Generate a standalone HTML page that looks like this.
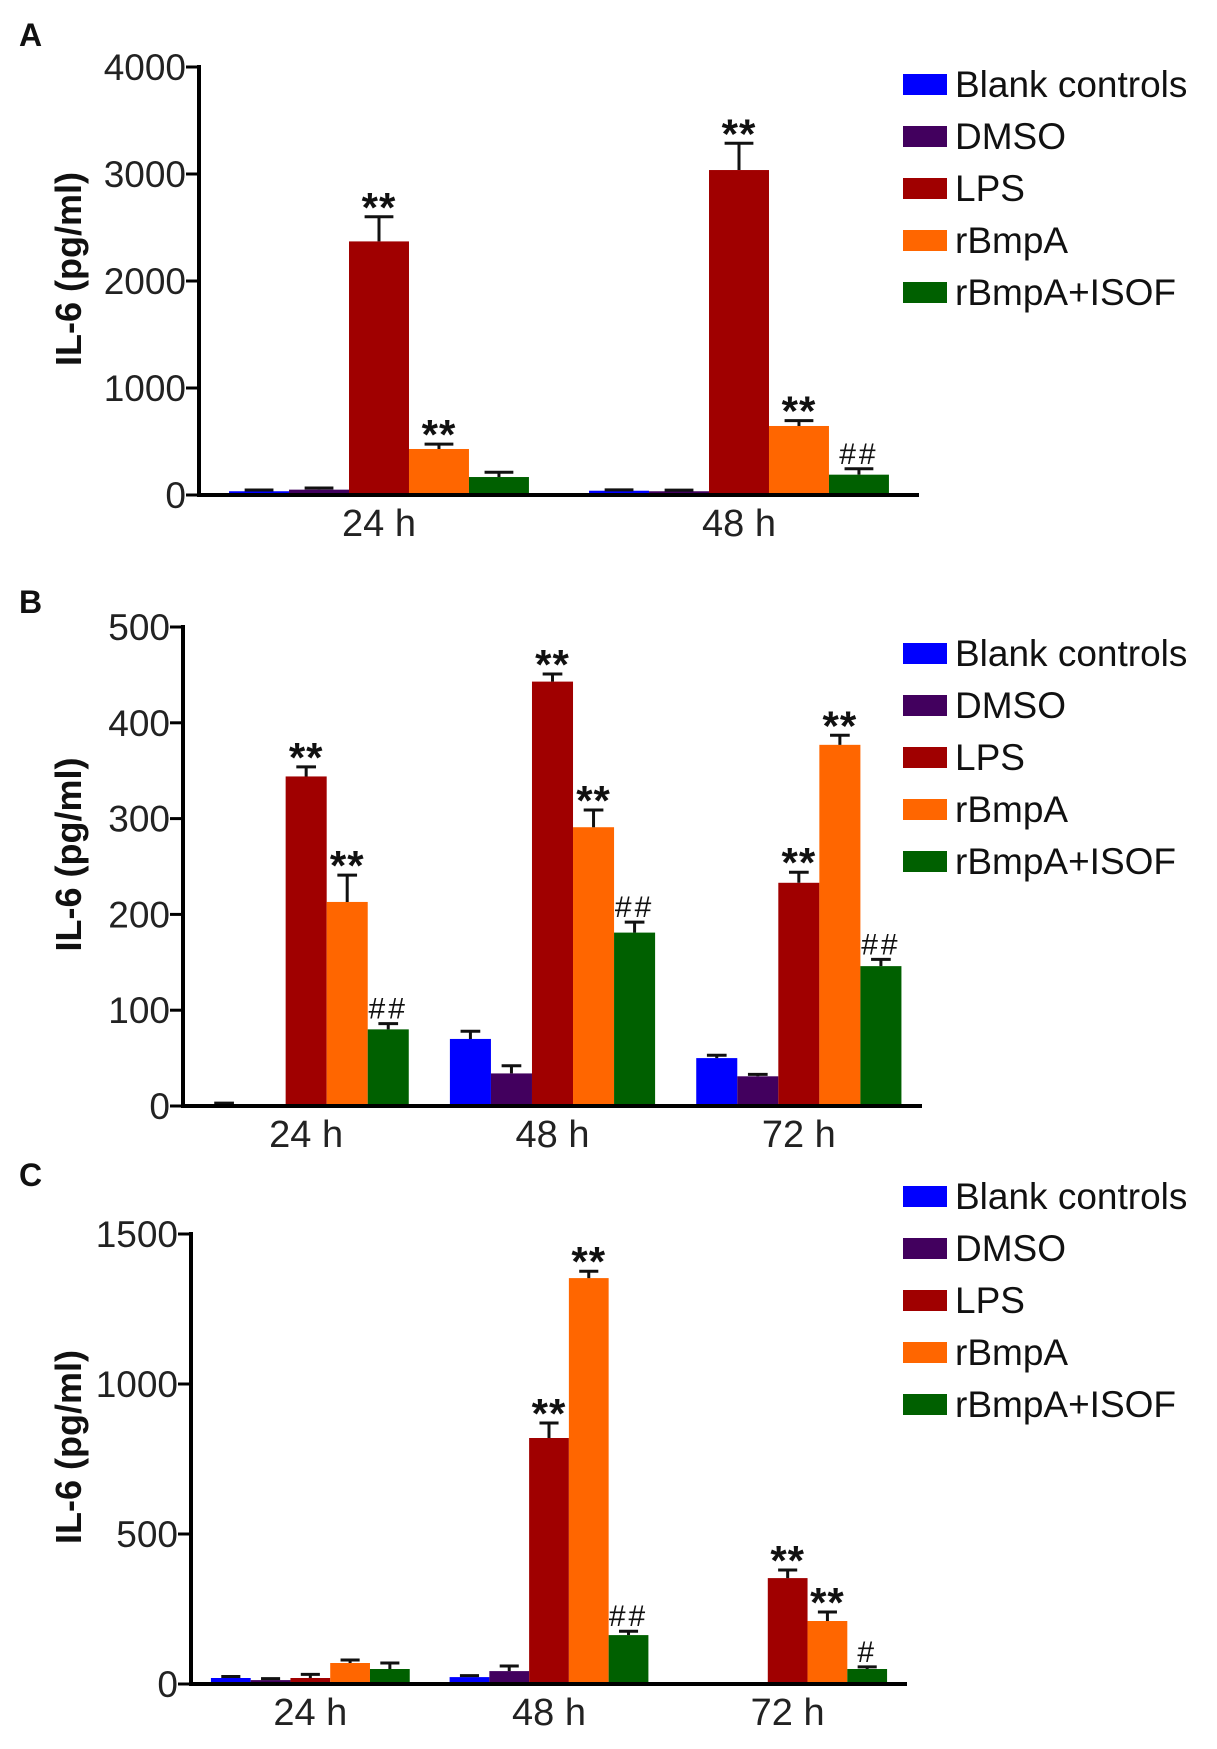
<!DOCTYPE html>
<html><head><meta charset="utf-8">
<style>
html,body{margin:0;padding:0;background:#fff;}
svg{display:block;font-family:"Liberation Sans",Arial,sans-serif;}
</style></head>
<body>
<svg id="fig" width="1217" height="1749" viewBox="0 0 1217 1749" xmlns="http://www.w3.org/2000/svg"></svg>
<script>
// ---- shared data ----
const seriesNames = ["Blank controls","DMSO","LPS","rBmpA","rBmpA+ISOF"];
const seriesColors = ["#0000ff","#42005e","#a00000","#ff6600","#006000"];

// ---- Panel A ----
const catsA = ["24 h","48 h"];
const ticksA = [0,1000,2000,3000,4000];
const valsA = [[35,40],[50,35],[2370,3037],[430,645],[168,190]];
const errsA = [[12,8],[15,10],[230,250],[45,50],[45,55]];
const sigA = [["","" ],["",""],["**","**"],["**","**"],["","##"]];

// ---- Panel B ----
const catsB = ["24 h","48 h","72 h"];
const ticksB = [0,100,200,300,400,500];
const valsB = [[2,70,50],[0,34,31],[344,443,233],[213,291,377],[80,181,146]];
const errsB = [[1,8,3],[0,8,2],[10,8,11],[28,18,10],[6,11,7]];
const sigB = [["","",""],["","",""],["**","**","**"],["**","**","**"],["##","##","##"]];

// ---- Panel C ----
const catsC = ["24 h","48 h","72 h"];
const ticksC = [0,500,1000,1500];
const valsC = [[20,23,0],[13,43,0],[20,820,353],[70,1353,210],[50,163,50]];
const errsC = [[5,5,0],[5,17,0],[12,50,27],[10,23,30],[20,13,7]];
const sigC = [["","",""],["","",""],["","**","**"],["","**","**"],["","##","#"]];

const NS = "http://www.w3.org/2000/svg";
const svg = document.getElementById("fig");
function mk(tag, attrs, parent){
  const e = document.createElementNS(NS, tag);
  for (const k in attrs) e.setAttribute(k, attrs[k]);
  (parent||svg).appendChild(e);
  return e;
}

function panel(cfg){
  const g = mk("g", {});
  
  
  const yMax = cfg.ticks[cfg.ticks.length-1];
  const yScale = v => cfg.y0 - (v / yMax) * (cfg.y0 - cfg.yTop);
  const nC = cfg.cats.length;
  const band = (cfg.x1 - cfg.x0) / nC;
  const nS = cfg.vals.length;
  const bw = band * 0.833 / nS;
  const xBar = (c, s) => cfg.x0 + band * c + band / 2 - bw * nS / 2 + s * bw;

  const L = mk("text", {x:19, y:cfg.letterY, "font-size":32, "font-weight":"bold", fill:"#111"}, g);
  L.textContent = cfg.id;
  
  

  for (let s = 0; s < nS; s++){
    for (let c = 0; c < nC; c++){
      const v = cfg.vals[s][c], e = cfg.errs[s][c];
      const x = xBar(c, s), yT = yScale(v);
      if (v > 0){
        const r = mk("rect", {x:x, y:yT, width:bw, height:cfg.y0 - yT, fill:seriesColors[s]}, g);
        
        
      }
      const cx = x + bw/2;
      const ye = yScale(v + e);
      if (e > 0){
        const eb = mk("path", {d:`M${cx} ${yT}V${ye}M${cx-bw*0.24} ${ye}H${cx+bw*0.24}`, stroke:"#111", "stroke-width":3, fill:"none"}, g);
        
        
      }
      const sg = cfg.sig[s][c];
      if (sg){
        const star = sg[0]==="*";
        const t = mk("text", {x:cx, y:star ? ye + 5 : ye - 5, "text-anchor":"middle", "font-size":star?42:30, "font-weight":star?"bold":"normal", fill:"#111", "letter-spacing":star?1:3}, g);
        t.textContent = sg;
        
        
      }
    }
  }

  const ya = mk("line", {x1:cfg.x0, y1:cfg.yTop-2, x2:cfg.x0, y2:cfg.y0+2, stroke:"#000", "stroke-width":4}, g);
  
  
  const xa = mk("line", {x1:cfg.x0-2, y1:cfg.y0, x2:cfg.x1, y2:cfg.y0, stroke:"#000", "stroke-width":4}, g);
  
  

  cfg.ticks.forEach(tv => {
    const y = yScale(tv);
    const tk = mk("line", {x1:cfg.x0-13, y1:y, x2:cfg.x0, y2:y, stroke:"#000", "stroke-width":3}, g);
    
    
    const tl = mk("text", {x:cfg.x0-13, y:y+13, "text-anchor":"end", "font-size":37, fill:"#222"}, g);
    tl.textContent = String(tv);
    
    
  });

  cfg.cats.forEach((cn, c) => {
    const cl = mk("text", {x:cfg.x0 + band*c + band/2, y:cfg.y0 + 41, "text-anchor":"middle", "font-size":38, fill:"#222"}, g);
    cl.textContent = cn;
    
    
  });

  const ym = (cfg.y0 + cfg.yTop)/2 - 12;
  const yt = mk("text", {x:0, y:0, transform:`translate(81 ${ym}) rotate(-90)`, "text-anchor":"middle", "font-size":36, "font-weight":"bold", fill:"#111"}, g);
  yt.textContent = "IL-6 (pg/ml)";
  
  

  seriesNames.forEach((nm, s) => {
    const cy = cfg.legY + s * 52;
    const lg = mk("g", {}, g);
    
    
    mk("rect", {x:903, y:cy-10, width:44, height:21, fill:seriesColors[s]}, lg);
    const lt = mk("text", {x:955, y:cy+13, "font-size":37, fill:"#111"}, lg);
    lt.textContent = nm;
  });
}

panel({id:"A", letterY:46, cats:catsA, ticks:ticksA, vals:valsA, errs:errsA, sig:sigA,
  x0:199, x1:919, y0:495, yTop:67, legY:84});
panel({id:"B", letterY:613, cats:catsB, ticks:ticksB, vals:valsB, errs:errsB, sig:sigB,
  x0:183, x1:922, y0:1106, yTop:627, legY:653});
panel({id:"C", letterY:1186, cats:catsC, ticks:ticksC, vals:valsC, errs:errsC, sig:sigC,
  x0:191, x1:907, y0:1684, yTop:1234, legY:1196});
</script>
</body></html>
